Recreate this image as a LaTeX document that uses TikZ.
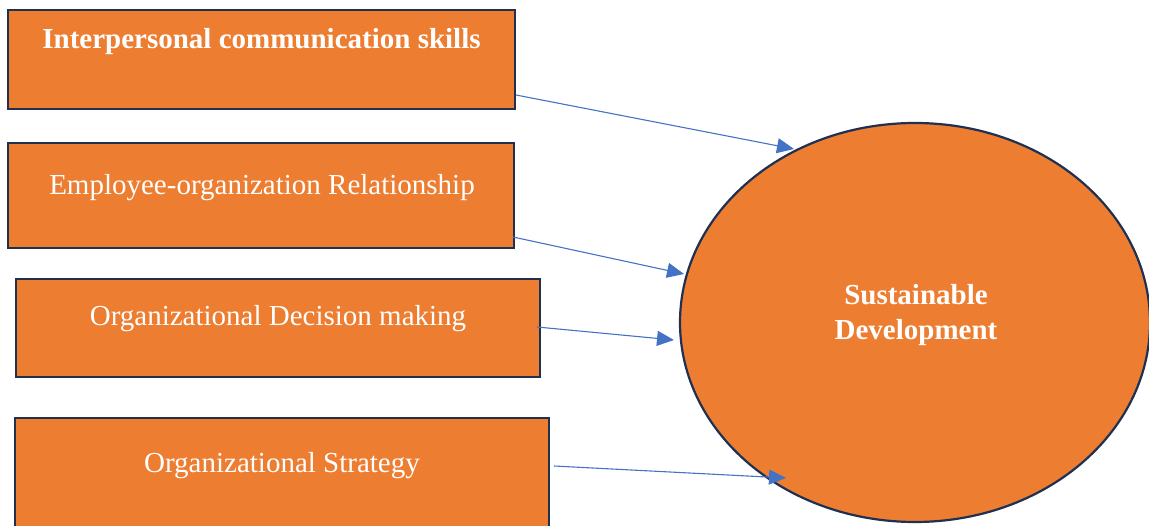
\documentclass[tikz,border=0pt]{standalone}
\usepackage{fontspec}
\setmainfont{Liberation Serif}
\usetikzlibrary{arrows.meta,shapes.geometric}
\definecolor{boxorange}{HTML}{ED7D31}
\definecolor{boxedge}{HTML}{1F3050}
\definecolor{linkblue}{HTML}{4472C4}
\begin{document}
\begin{tikzpicture}[x=1pt,y=-1pt,
  factor/.style={draw=boxedge,line width=2.2pt,fill=boxorange,rectangle,inner sep=0pt},
  label/.style={text=white,font=\fontsize{29}{35}\selectfont,inner sep=0pt,anchor=base},
  link/.style={draw=linkblue,line width=1.1pt,-{Triangle[length=17pt,width=15pt]}}]
\useasboundingbox (0,0) rectangle (1149,526);
% factor boxes
\node[factor,minimum width=507pt,minimum height=99pt] (b1) at (261.5,59.5) {};
\node[factor,minimum width=506pt,minimum height=105pt] (b2) at (261,195.5) {};
\node[factor,minimum width=524pt,minimum height=98pt] (b3) at (278,328) {};
\node[factor,minimum width=534pt,minimum height=140pt] (b4) at (282,488) {};
% box captions
\node[label,font=\fontsize{29}{35}\selectfont\bfseries] (t1) at (261.5,49) {Interpersonal communication skills};
\node[label] (t2) at (262,195) {Employee-organization Relationship};
\node[label] (t3) at (278,326) {Organizational Decision making};
\node[label] (t4) at (282,472.5) {Organizational Strategy};
% outcome
\node[factor,ellipse,minimum width=470pt,minimum height=399pt] (sd) at (915,322.5) {};
\node[text=white,font=\fontsize{29}{35}\selectfont\bfseries,align=center] (tsd) at (916,315) {Sustainable\\Development};
% link end points
\coordinate (s1) at (516,95);  \coordinate (e1) at (794,149);
\coordinate (s2) at (513,237); \coordinate (e2) at (684,274);
\coordinate (s3) at (537,327); \coordinate (e3) at (674,340);
\coordinate (s4) at (554,466); \coordinate (e4) at (786,478);
\draw[link] (s1) -- (e1);
\draw[link] (s2) -- (e2);
\draw[link] (s3) -- (e3);
\draw[link] (s4) -- (e4);
\end{tikzpicture}
\end{document}
